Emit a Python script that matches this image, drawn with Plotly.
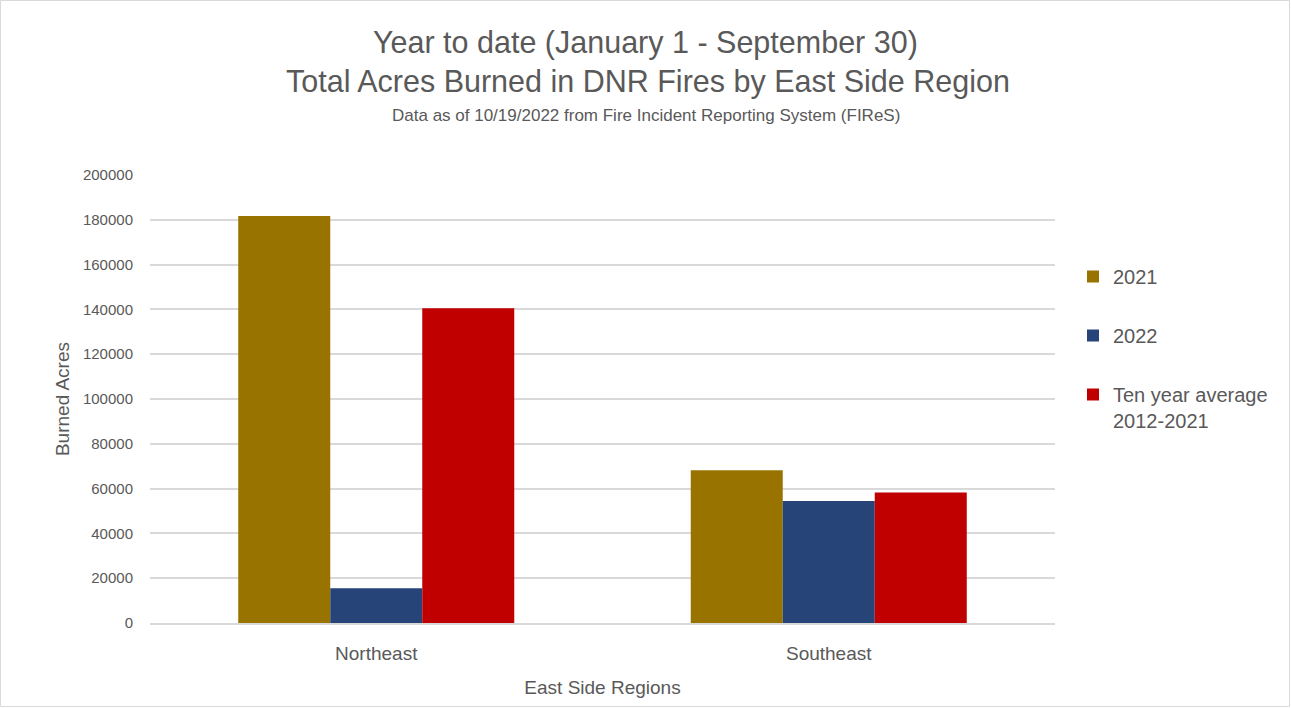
import plotly.graph_objects as go

regions = ["Northeast", "Southeast"]
series_names = ["2021", "2022", "Ten year average<br>2012-2021"]
v2021 = [181700, 68200]
v2022 = [15500, 54500]
vavg = [140500, 58300]
colors = ["#997300", "#264478", "#C00000"]
yticks = [0, 20000, 40000, 60000, 80000, 100000, 120000, 140000, 160000, 180000, 200000]

FONT = "Liberation Sans Narrow, Arial Narrow, Liberation Sans, Arial"
TXT = "#595959"

fig = go.Figure()
for i, (name, vals) in enumerate(zip(series_names, [v2021, v2022, vavg])):
    fig.add_trace(go.Bar(x=regions, y=vals, name=name, marker_color=colors[i],
                         marker_line_width=0, legendgroup=str(i)))

L, R, T, B = 150, 236, 175, 85
W, H = 1291, 708
plot_h = H - T - B
plot_w = W - L - R
def py(pix):
    return (H - B - pix) / plot_h
def px(pix):
    return (pix - L) / plot_w

fig.update_layout(
    width=W, height=H,
    paper_bgcolor="white", plot_bgcolor="white",
    margin=dict(l=L, r=R, t=T, b=B),
    barmode="group", bargap=0.39, bargroupgap=0,
    font=dict(family=FONT, color=TXT, size=16),
    showlegend=True,
    legend=dict(x=px(1073), y=py(257), xanchor="left", yanchor="top",
                font=dict(size=20, color=TXT, family=FONT),
                tracegroupgap=30, valign="top", itemwidth=30),
    xaxis=dict(showline=True, linecolor="#d9d9d9", linewidth=1.5, ticks="",
               tickfont=dict(size=19, color=TXT), ticklabelstandoff=12,
               title=dict(text="East Side Regions", font=dict(size=19, color=TXT), standoff=18)),
    yaxis=dict(range=[0, 200000], tickvals=yticks, ticktext=[str(t) for t in yticks],
               showgrid=True, gridcolor="#d9d9d9", gridwidth=1.5, zeroline=False,
               tickfont=dict(size=15, color=TXT), ticks="", ticklabelstandoff=16,
               title=dict(text="Burned Acres", font=dict(size=19, color=TXT), standoff=8)),
)

fig.add_annotation(text="Year to date (January 1 - September 30)", x=px(645), y=py(42),
                   xref="paper", yref="paper", xanchor="center", yanchor="middle",
                   showarrow=False, font=dict(size=30.5, color=TXT, family=FONT))
fig.add_annotation(text="Total Acres Burned in DNR Fires by East Side Region", x=px(648), y=py(82),
                   xref="paper", yref="paper", xanchor="center", yanchor="middle",
                   showarrow=False, font=dict(size=30.5, color=TXT, family=FONT))
fig.add_annotation(text="Data as of 10/19/2022 from Fire Incident Reporting System (FIReS)",
                   x=px(646), y=py(116), xref="paper", yref="paper", xanchor="center",
                   yanchor="middle", showarrow=False, font=dict(size=17, color=TXT, family=FONT))

fig.add_shape(type="rect", xref="paper", yref="paper", x0=px(0.5), x1=px(1289.5), y0=py(706.5),
              y1=py(0.5), line=dict(color="#d9d9d9", width=1), fillcolor="rgba(0,0,0,0)",
              layer="below")

fig.write_html("out.html", config={"displayModeBar": False},
               post_script="document.body.style.margin='0';")
